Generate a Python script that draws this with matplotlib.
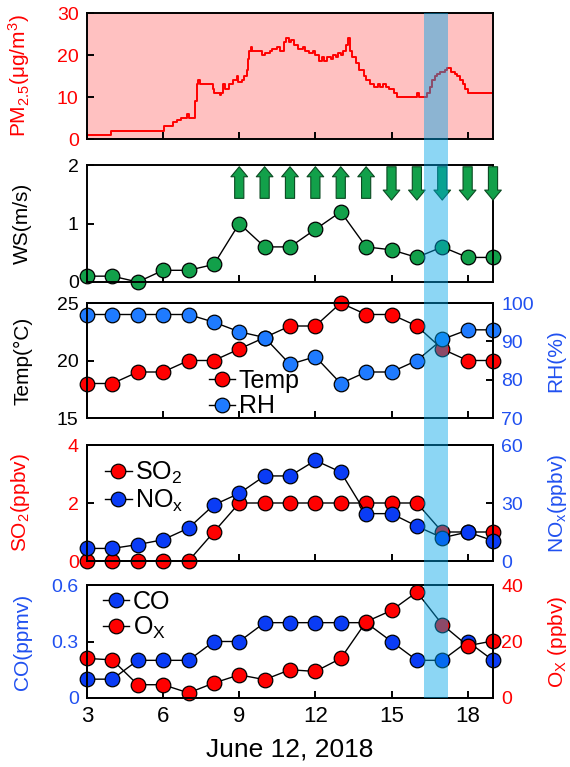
import matplotlib
matplotlib.use("Agg")
import matplotlib.pyplot as plt
from matplotlib.patches import Rectangle
from matplotlib.transforms import blended_transform_factory

plt.rcParams["font.family"] = ["Liberation Sans", "DejaVu Sans"]
plt.rcParams["mathtext.default"] = "regular"
plt.rcParams["axes.linewidth"] = 1.4

# hourly data, June 12 2018
hours = [3, 4, 5, 6, 7, 8, 9, 10, 11, 12, 13, 14, 15, 16, 17, 18, 19]
ws = [0.1, 0.1, 0.0, 0.2, 0.2, 0.3, 1.0, 0.6, 0.6, 0.9, 1.2, 0.6, 0.55, 0.42, 0.6, 0.42, 0.42]
temp = [18, 18, 19, 19, 20, 20, 21, 22, 23, 23, 25, 24, 24, 23, 21, 20, 20]
rh = [97, 97, 97, 97, 97, 95, 92.5, 91, 84, 86, 79, 82, 82, 85, 90.5, 93, 93]
so2 = [0, 0, 0, 0, 0, 1, 2, 2, 2, 2, 2, 2, 2, 2, 1, 1, 1]
nox = [6.5, 6.5, 8.5, 11, 17, 29, 35, 44, 44, 52, 46, 24.5, 24.5, 18, 12, 15, 10.5]
co = [0.1, 0.1, 0.2, 0.2, 0.2, 0.3, 0.3, 0.4, 0.4, 0.4, 0.4, 0.4, 0.3, 0.2, 0.2, 0.3, 0.2]
ox = [14, 13.5, 4.7, 4.7, 1.8, 5.3, 8.2, 6.5, 10, 9.4, 14, 27, 31, 37.5, 26, 18.5, 20.2]

# wind direction arrows (1 = up, -1 = down)
arrow_hours = [9, 10, 11, 12, 13, 14, 15, 16, 17, 18, 19]
arrow_dirs = [1, 1, 1, 1, 1, 1, -1, -1, -1, -1, -1]

# PM2.5 (high resolution, step changes)
pm_t = [3.0, 3.95, 6.05, 6.4, 6.55, 6.7, 6.95, 7.0, 7.15, 7.25, 7.33, 7.38, 7.45,
        7.95, 8.0, 8.25, 8.3, 8.35, 8.45, 8.6, 8.75, 8.9, 8.95, 9.1, 9.2, 9.3,
        9.35, 9.4, 9.45, 9.5, 9.9, 10.0, 10.2, 10.3, 10.5, 10.6, 10.75, 10.85,
        10.95, 11.05, 11.15, 11.3, 11.5, 11.6, 11.75, 11.9, 12.0, 12.15, 12.25,
        12.35, 12.45, 12.6, 12.7, 12.8, 12.9, 13.0, 13.1, 13.2, 13.28, 13.35,
        13.45, 13.6, 13.7, 13.9, 14.0, 14.15, 14.3, 14.45, 14.55, 14.65, 14.8,
        14.9, 15.1, 15.2, 16.0, 16.1, 16.3, 16.4, 16.5, 16.6, 16.7, 16.8, 16.9,
        17.0, 17.1, 17.2, 17.35, 17.5, 17.6, 17.7, 17.8, 17.9, 18.0, 19.0]
pm_v = [1, 2, 3, 4, 4.5, 5, 6, 5, 5, 9, 13, 14, 13,
        12, 11, 10.5, 11, 13, 12, 13, 14, 15, 13.5, 14, 15, 16.5,
        19, 21, 22, 21, 20, 20.5, 21, 21.5, 22, 21, 23, 24,
        23, 23.5, 22.5, 21.5, 22, 21, 20.5, 21, 20, 18.5, 19.5,
        18.5, 19.5, 19, 20, 19.5, 20.5, 20, 21, 22.5, 24, 21,
        19.5, 18, 16.5, 15, 14, 13, 12.5, 13, 12.5, 13, 12.5,
        12, 11, 10, 11, 10, 10, 11, 12.5, 14, 15, 15.5, 16,
        16, 16.5, 17, 16, 15.5, 15, 14, 13, 12, 11, 11.5]

red = "#FF0000"
blue = "#0A3CF5"
rhblue = "#1F7BFF"
tblue = "#2050F0"
green = "#12A04A"

fig = plt.figure(figsize=(5.7, 7.67), dpi=100)
L, W = 87 / 570, 406 / 570
rows = [(13, 139), (165, 282), (303, 418), (445, 561), (585, 698)]
axs = [fig.add_axes([L, 1 - b / 767, W, (b - t) / 767]) for t, b in rows]

mk = dict(marker="o", ms=10.5, mec="black", mew=0.9, color="black", lw=1, clip_on=False)
leg = dict(frameon=False, fontsize=18, handlelength=1.05, handletextpad=0.15,
           labelspacing=0.05, borderpad=0, borderaxespad=0)
LABEL = 15


def style(ax):
    ax.set_xlim(3, 19)
    ax.set_xticks([3, 6, 9, 12, 15, 18])
    ax.tick_params(direction="in", length=5, width=1.4, labelsize=14, pad=6)
    ax.tick_params(axis="x", labelbottom=False)


for ax in axs:
    style(ax)

# PM2.5
ax = axs[0]
ax.set_facecolor("#FFC1C1")
ax.plot(pm_t, pm_v, color=red, lw=1.4, drawstyle="steps-post")
ax.set_ylim(0, 30)
ax.set_yticks([0, 10, 20, 30])
ax.tick_params(axis="y", labelcolor=red)
ax.set_ylabel("PM$_{2.5}$(μg/m$^3$)", color=red, fontsize=LABEL)

# wind speed
ax = axs[1]
ax.plot(hours, ws, mfc=green, **mk)
ax.set_ylim(0, 2)
ax.set_yticks([0, 1, 2])
ax.set_ylabel("WS(m/s)", fontsize=LABEL)
for h, d in zip(arrow_hours, arrow_dirs):
    lo, hi = (1.43, 1.97) if d > 0 else (1.97, 1.40)
    ax.annotate("", xy=(h, hi), xytext=(h, lo),
                arrowprops=dict(arrowstyle="simple,head_length=0.6,head_width=1.0,tail_width=0.55",
                                fc=green, ec="#0B4A22", lw=0.8, mutation_scale=12,
                                shrinkA=0, shrinkB=0))

# temperature / RH
ax = axs[2]
l1, = ax.plot(hours, temp, mfc=red, **mk)
ax.set_ylim(15, 25)
ax.set_yticks([15, 20, 25])
ax.set_ylabel("Temp(°C)", fontsize=LABEL)
tx = ax.twinx()
style(tx)
l2, = tx.plot(hours, rh, mfc=rhblue, **mk)
tx.set_ylim(70, 100)
tx.set_yticks([70, 80, 90, 100])
tx.tick_params(axis="y", labelcolor=tblue)
tx.set_ylabel("RH(%)", color=tblue, fontsize=LABEL)
tx.legend([l1, l2], ["Temp", "RH"], loc="center left", bbox_to_anchor=(0.30, 0.21), **leg)

# SO2 / NOx
ax = axs[3]
l1, = ax.plot(hours, so2, mfc=red, **mk)
ax.set_ylim(0, 4)
ax.set_yticks([0, 2, 4])
ax.tick_params(axis="y", labelcolor=red)
ax.set_ylabel("SO$_2$(ppbv)", color=red, fontsize=LABEL)
tx = ax.twinx()
style(tx)
l2, = tx.plot(hours, nox, mfc=blue, **mk)
tx.set_ylim(0, 60)
tx.set_yticks([0, 30, 60])
tx.tick_params(axis="y", labelcolor=tblue)
tx.set_ylabel("NO$_x$(ppbv)", color=tblue, fontsize=LABEL)
tx.legend([l1, l2], ["SO$_2$", "NO$_x$"], loc="center left", bbox_to_anchor=(0.045, 0.64), **leg)

# CO / Ox
ax = axs[4]
l1, = ax.plot(hours, co, mfc=blue, **mk)
ax.set_ylim(0, 0.6)
ax.set_yticks([0, 0.3, 0.6])
ax.set_yticklabels(["0", "0.3", "0.6"])
ax.tick_params(axis="y", labelcolor=tblue)
ax.set_ylabel("CO(ppmv)", color=tblue, fontsize=LABEL)
ax.tick_params(axis="x", labelbottom=True, labelsize=16)
ax.set_xlabel("June 12, 2018", fontsize=19, labelpad=7)
tx = ax.twinx()
style(tx)
l2, = tx.plot(hours, ox, mfc=red, **mk)
tx.set_ylim(0, 40)
tx.set_yticks([0, 20, 40])
tx.tick_params(axis="y", labelcolor=red)
tx.set_ylabel("O$_X$ (ppbv)", color=red, fontsize=LABEL)
tx.legend([l1, l2], ["CO", "O$_X$"], loc="center left", bbox_to_anchor=(0.04, 0.73), **leg)

for a in fig.axes:
    if a.yaxis.get_label_position() == "left":
        a.yaxis.set_label_coords(-0.135, 0.5)
    else:
        a.yaxis.set_label_coords(1.13, 0.5)

# highlighted period
trans = blended_transform_factory(axs[4].transData, fig.transFigure)
y0 = 1 - 698 / 767
fig.add_artist(Rectangle((16.3, y0), 0.92, (1 - 13 / 767) - y0, transform=trans,
                         facecolor="#00A5E8", alpha=0.45, lw=0, zorder=10))

fig.savefig("out.png", dpi=100)
